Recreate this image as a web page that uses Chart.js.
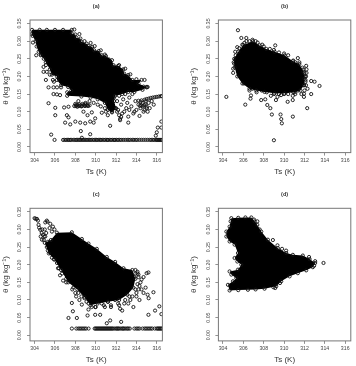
<!DOCTYPE html>
<html>
<head>
<meta charset="utf-8">
<script src="https://cdn.jsdelivr.net/npm/chart.js@4"></script>
<style>
  html, body { margin: 0; padding: 0; background: #fff; }
  body { position: relative; width: 356px; height: 366px; overflow: hidden; }
  .panel { position: absolute; width: 178px; height: 183px; }
  .panel canvas { display: block; }
</style>
</head>
<body>
<div class="panel" style="left:0;top:0"><canvas id="a" width="178" height="183"></canvas></div>
<div class="panel" style="left:178px;top:0"><canvas id="b" width="178" height="183"></canvas></div>
<div class="panel" style="left:0;top:183px"><canvas id="c" width="178" height="183"></canvas></div>
<div class="panel" style="left:178px;top:183px"><canvas id="d" width="178" height="183"></canvas></div>
<script>
// Soil moisture against surface temperature for four periods.
const tsTicks = [304, 306, 308, 310, 312, 314, 316];
const thetaTicks = [0, 0.05, 0.10, 0.15, 0.20, 0.25, 0.30, 0.35];

// Outlines of the saturated regions where the observations overlap completely: [Ts, theta]
const aDense = [[303.75,.332],[304.5,.332],[305.2,.332],[306,.332],[306.8,.332],[307.65,.332],[307.65,.322],[308,.319],[308.1,.31],[308.5,.3075],[308.6,.298],[309.1,.293],[309.3,.286],[309.65,.284],[309.85,.274],[310.3,.272],[310.6,.26],[311,.258],[311.6,.246],[311.75,.232],[312.2,.23],[312.7,.22],[312.8,.208],[313.2,.204],[313.6,.19],[314.5,.19],[314.2,.18],[315,.169],[314.6,.162],[313.8,.156],[313.2,.156],[312.6,.15],[311.9,.145],[311.8,.13],[312,.11],[311.6,.098],[311.2,.105],[310.9,.125],[310.2,.135],[309.5,.14],[308.6,.143],[307.2,.145],[307.2,.155],[307.6,.16],[307.3,.17],[306.6,.175],[306.2,.19],[306.2,.2],[305.7,.205],[305.5,.22],[305.1,.24],[304.9,.25],[304.6,.26],[304.4,.27],[304.2,.285],[304.1,.3],[303.8,.315],[303.7,.32]];
const bDense = [[305.5,.27],[306,.289],[306.94,.3],[307.6,.288],[308.25,.278],[309.07,.27],[310.05,.26],[310.86,.243],[311.5,.235],[311.9,.213],[312,.194],[311.95,.175],[311.6,.16],[311.03,.155],[310.05,.152],[309.07,.152],[308.08,.156],[307.27,.16],[306.6,.165],[305.9,.18],[305.4,.2],[305.15,.225],[305.1,.25]];
const cDense = [[305.6,.27],[306.19,.291],[307.66,.292],[308.64,.273],[309.29,.26],[310.11,.245],[311.09,.222],[311.91,.208],[312.73,.19],[313.6,.185],[313.9,.16],[313.7,.135],[313.1,.115],[312.3,.1],[311.2,.095],[310.2,.09],[309.5,.085],[308.9,.108],[308.2,.13],[307.3,.15],[306.6,.185],[305.95,.215],[305.4,.232],[305,.262]];
const dDense = [[304.82,.332],[305.5,.333],[306.2,.334],[306.78,.334],[307.1,.323],[307.37,.313],[307.76,.294],[308.41,.271],[309.39,.247],[310.21,.233],[310.86,.228],[311.84,.226],[312.5,.216],[313.05,.205],[312.82,.193],[312.17,.184],[311.35,.176],[310.54,.167],[309.72,.153],[309.23,.139],[308.08,.132],[307.2,.13],[306.45,.129],[305.5,.128],[304.65,.127],[304.49,.143],[304.98,.153],[305.31,.162],[304.82,.172],[304.65,.181],[305.47,.186],[305.8,.2],[305.41,.209],[305.14,.219],[305.47,.233],[305.14,.257],[304.65,.266],[304.33,.28],[304.33,.294],[304.65,.308],[304.75,.323]];

// Individual observations outside the saturated regions: [Ts, theta]
const aPoints = [[303.84,.296],[304.16,.26],[304.62,.262],[304.88,.227],[305.11,.232],[304.88,.213],[305.2,.213],[305.11,.19],[305.37,.169],[305.86,.169],[306.2,.169],[306.6,.169],[305.86,.15],[306.19,.149],[306.5,.147],[305.37,.124],[306.03,.111],[306.03,.09],[306.9,.112],[307.33,.114],[307,.069],[307.5,.064],[307.17,.09],[307.33,.084],[308,.072],[308.48,.069],[308.97,.067],[309.2,.09],[309.46,.072],[309.95,.081],[309.8,.069],[308.54,.045],[308.64,.026],[309.46,.036],[305.63,.035],[305.96,.02],[311.42,.06],[310.6,.097],[311.19,.09],[309.62,.098],[308.8,.1],[313.2,.069],[312.4,.076],[313.2,.086],[313.7,.095],[314.3,.088],[316.45,.072],[316.45,.055],[316.1,.055],[316,.0415],[315.9,.032],
[311.8,.14],[312.1,.13],[312.3,.145],[312.5,.12],[312.7,.135],[312.9,.15],[313.1,.125],[313.3,.14],[313.5,.115],[313.6,.15],[313.9,.13],[314,.105],[314.2,.12],[314.4,.11],[314.6,.125],[314.8,.105],[315,.115],[315.2,.125],[315.1,.1],[314.7,.1],[312.1,.1],[312.3,.09],[312.4,.08],[312.5,.085],[312.6,.095],[312.2,.105],[311.9,.11],[311.6,.1],[311.3,.115],[310.9,.11],[311,.1],[310.5,.115],[310.2,.12],[309.8,.125],[309.4,.13],[309,.125],[308.6,.115],[308.2,.118],[308,.122],[307.9,.116],[308.3,.13],[308.9,.118],[309.2,.12],[313.8,.1],[315.3,.11],[315.5,.13],[315.7,.12],[313,.11],[312.8,.1],[313.3,.105],
[314.2,.131],[314.5,.132],[314.8,.134],[315,.136],[315.2,.137],[315.4,.139],[315.6,.14],[315.8,.141],[316,.142],[316.2,.143],[316.4,.144],[316.5,.144],[314.4,.128],[314.9,.13],
[312.4,.165],[313,.165],[313.5,.168],[314,.17],[314.7,.171],[315,.17],
[308.05,.116],[308.2,.114],[308.35,.116],[308.5,.118],[308.65,.116],[308.8,.119],[308.95,.116],[309.1,.118],[309.25,.116],[309.4,.118],[308.1,.12],[308.4,.121],[308.7,.122],[309,.122],[314.6,.115],[314.75,.118],[314.9,.12],[315,.11],[314.5,.118],[314.35,.117],
[312.3,.232],[312.9,.222],[313.4,.206],[314,.192],[314.8,.19],[315.1,.17],[311.3,.248],[310.9,.262],[310.5,.274],[309.9,.286],[309.5,.295],[308.9,.3],[308.4,.32],[307.9,.333],[305.8,.19],[305.5,.205],[305.9,.185]];
const aDry = [306.8,306.95,307.1,307.25,307.35,307.5,307.6,307.8,307.95,308.1,308.2,308.35,308.5,308.6,308.75,308.9,309,309.15,309.3,309.4,309.55,309.7,309.85,310,310.1,310.25,310.4,310.5,310.65,310.8,310.95,311.1,311.2,311.35,311.5,311.65,311.8,311.9,312.05,312.2,312.35,312.5,312.7,312.9,313.1,313.25,313.4,313.6,313.75,313.95,314.1,314.3,314.5,314.7,314.9,315.1,315.3,315.45,315.6,315.75,315.9,316,316.1,316.2,316.3,316.4,316.5];

const bPoints = [[305.47,.331],[305.8,.309],[306.29,.309],[309.13,.288],[311.35,.252],[312.17,.23],[312.66,.187],[312.99,.185],[313.48,.173],[312.66,.15],[304.33,.142],[306.19,.12],[312.27,.11],[310.86,.086],[308.8,.092],[309.65,.092],[309.72,.079],[309.78,.067],[309,.019],
[306.6,.16],[306.75,.146],[306.7,.137],[307.75,.133],[308.15,.135],[308.35,.119],[308.65,.11],[309.2,.133],[309.35,.142],[309.7,.147],[310.35,.128],[310.85,.145],[310.85,.133],[311.35,.16],[311.95,.142],[311.95,.151],[311.95,.175],[312.1,.19],[312.1,.2],[312,.21],[312.15,.175],[311.9,.22],
[305.0,.222],[305.1,.236],[305.2,.247],[305.25,.26],[305.4,.283],[305.25,.25],[305.6,.205],[305.8,.195],[306.05,.18],[306.5,.175],[306.9,.165],[307.3,.155],[307.8,.16],[308.3,.155],[308.7,.145],[309,.15],[309.5,.15],[310,.15],[310.4,.15],[310.9,.155],[311.4,.165],[311.1,.15],[305.9,.29],[306.3,.3],[306.9,.304],[307.4,.296],[307.85,.29],[308.6,.278],[309.5,.268],[310.4,.26],[310.9,.245],[311.5,.24],[311.8,.225],[312,.2],[312.2,.21],[312.3,.165],
[312.1,.185],[312.15,.2],[312.2,.22],[312,.16],[311.7,.15],[305,.21],[305.05,.24],[305.2,.27],[305.6,.28],[306.1,.295],[306.6,.3],[307.2,.3],[308,.285],[309,.275],[310,.265],[311.1,.24]];

const cPoints = [[304,.332],[304.23,.33],[304.33,.325],[304.39,.313],[304.56,.299],[304.82,.285],[304.72,.271],[304.1,.33],[304.45,.305],[304.7,.29],[304.95,.28],[305.05,.32],[305.27,.322],[305.54,.316],[305.8,.308],[305.47,.304],[305.7,.294],[305.14,.29],[305.2,.325],[305.95,.3],[305.3,.265],[305.2,.25],[305.5,.235],[305.9,.215],[306.3,.19],[306.5,.17],[306.8,.155],[307.1,.15],[307.7,.13],[308,.12],
[307.66,.0915],[307.33,.049],[307.76,.068],[308.15,.049],[308.08,.11],[308.64,.087],[309.29,.073],[309.2,.056],[309.95,.058],[310.44,.058],[309.95,.08],[311.09,.034],[311.42,.042],[312.5,.038],[315.18,.058],[315.67,.122],[315.83,.07],[316.25,.082],[316.45,.06],[314.2,.172],[315,.176],[315.18,.178],[314.5,.158],[314.1,.18],
[308.4,.1],[308.9,.105],[309.3,.09],[309.6,.1],[310.2,.095],[310.6,.09],[310.9,.08],[311.2,.095],[311.5,.085],[311.9,.1],[312.2,.09],[312.4,.075],[312.6,.07],[312.9,.1],[313.2,.09],[313.3,.11],[313.7,.08],[314,.12],[314.3,.1],[314.5,.13],[314.7,.12],[314.9,.135],[315.1,.115],[315.2,.105],[314.1,.145],[313.9,.13],[314.4,.15],[314.7,.165],[313.9,.175],[313.8,.165],
[313.9,.185],[314.1,.175],[314.2,.165],[314.3,.14],[314.2,.13],[314,.11],[313.6,.11],[313.4,.1],[312.8,.09],[312.3,.085],[311.5,.08],[310.8,.085],[310,.08],[309.6,.08],[309.1,.095],[308.6,.11],[308.3,.12],[307.8,.135],[307.1,.16],[306.7,.175],[306.4,.19],[306.2,.205],[305.7,.22],[305.3,.24],[304.9,.27],[305.05,.28],[304.6,.28],[304.75,.3],[305,.3]];
const cDry = [307.66,308.1,308.3,308.45,308.6,308.75,308.9,309.05,309.3,309.9,310,310.1,310.2,310.3,310.4,310.5,310.6,310.7,310.8,310.9,311,311.1,311.2,311.3,311.4,311.5,311.6,311.7,311.85,312,312.1,312.2,312.3,312.45,312.6,312.7,312.8,312.95,313.1,313.2,313.35,313.8,314,314.15,314.3,314.6,314.8,314.95,315.1,315.25,315.4,315.55,315.8,316,316.1,316.2,316.3,316.4,316.5];

const dPoints = [[313.87,.205],[309.13,.134],[308.95,.136],[307.37,.323],[307.05,.328],[307.6,.3],[308.9,.27],[309.35,.255],[309.8,.245],[310.2,.24],[312.45,.222],[313.05,.21],[312.95,.197],[309.6,.148]];

const charts = [
  { id: 'a', label: '(a)', dense: aDense, points: aPoints, dry: aDry, dryTheta: 0.02, left: 30, top: 20, titleY: 6 },
  { id: 'b', label: '(b)', dense: bDense, points: bPoints, dry: [], dryTheta: 0, left: 40.4, top: 20, titleY: 6 },
  { id: 'c', label: '(c)', dense: cDense, points: cPoints, dry: cDry, dryTheta: 0.019, left: 30, top: 25.3, titleY: 11.7 },
  { id: 'd', label: '(d)', dense: dDense, points: dPoints, dry: [], dryTheta: 0, left: 40.4, top: 25.3, titleY: 11.7 }
];

const asXY = pairs => pairs.map(([x, y]) => ({ x, y }));

// Frame around the plotting region and the bold panel letter above it.
const frame = {
  id: 'frame',
  afterDatasetsDraw(chart, args, opts) {
    const { ctx, chartArea: r } = chart;
    ctx.save();
    ctx.strokeStyle = '#777';
    ctx.lineWidth = 1;
    ctx.strokeRect(r.left, r.top, r.right - r.left, r.bottom - r.top);
    ctx.fillStyle = '#333';
    ctx.font = 'bold 5.5px "Liberation Sans"';
    ctx.textAlign = 'center';
    ctx.textBaseline = 'middle';
    ctx.fillText(opts.label, (r.left + r.right) / 2, opts.y);
    ctx.restore();
  }
};

const marker = { pointStyle: 'circle', pointRadius: 1.6, pointBorderWidth: 0.9, pointBorderColor: '#111', pointBackgroundColor: 'rgba(0,0,0,0)' };

for (const p of charts) {
  new Chart(document.getElementById(p.id), {
    type: 'scatter',
    data: {
      datasets: [
        { data: asXY(p.dense), showLine: true, fill: 'shape', tension: 0, borderWidth: 0, borderColor: '#000', backgroundColor: '#000', ...marker },
        { data: asXY(p.points), ...marker },
        { data: p.dry.map(x => ({ x, y: p.dryTheta })), ...marker }
      ]
    },
    options: {
      responsive: false,
      animation: false,
      events: [],
      layout: { padding: { left: p.left - 30, top: p.top, right: 178 - p.left - 132.4, bottom: 183 - p.top - 132.6 - 24 } },
      plugins: {
        legend: { display: false },
        tooltip: { enabled: false },
        frame: { label: p.label, y: p.titleY }
      },
      scales: {
        x: {
          type: 'linear',
          min: 303.55,
          max: 316.55,
          afterBuildTicks: s => { s.ticks = tsTicks.map(value => ({ value })); },
          afterFit: s => { s.height = 24; },
          grid: { drawOnChartArea: false, drawTicks: true, tickLength: 3, color: '#777', lineWidth: 0.8 },
          border: { display: false },
          ticks: { color: '#444', autoSkip: false, maxRotation: 0, minRotation: 0, padding: 2, font: { family: 'Liberation Sans', size: 5.2 }, callback: v => String(v) },
          title: { display: true, text: 'Ts (K)', color: '#333', padding: { top: 1, bottom: 0 }, font: { family: 'Liberation Sans', size: 8 } }
        },
        y: {
          type: 'linear',
          min: -0.016,
          max: 0.36,
          afterBuildTicks: s => { s.ticks = thetaTicks.map(value => ({ value })); },
          afterFit: s => { s.width = 30; },
          grid: { drawOnChartArea: false, drawTicks: true, tickLength: 3, color: '#777', lineWidth: 0.8 },
          border: { display: false },
          ticks: { color: '#444', autoSkip: false, minRotation: 90, maxRotation: 90, crossAlign: 'center', padding: 2, font: { family: 'Liberation Sans', size: 5.2 }, callback: v => v.toFixed(2) },
          title: { display: true, text: 'θ (kg kg⁻¹)', color: '#333', padding: { top: 1, bottom: 0 }, font: { family: 'Liberation Sans', size: 8 } }
        }
      }
    },
    plugins: [frame]
  });
}
</script>
</body>
</html>
